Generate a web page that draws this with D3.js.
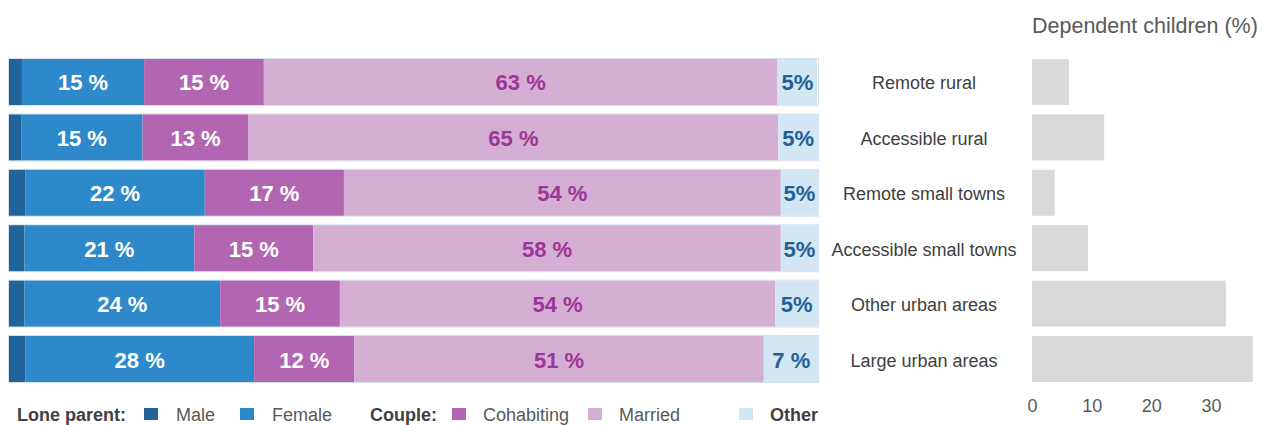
<!DOCTYPE html>
<html lang="en">

<head>
  <meta charset="UTF-8">
  <title>Household types by urban rural classification</title>
  <script src="https://d3js.org/d3.v7.min.js"></script>
  <style>
    body {
      margin: 0;
      background: #fff;
    }

    svg {
      font-family: "Liberation Sans", Arial, sans-serif;
    }
  </style>
</head>

<body>
  <div id="chart"></div>
  <script>
    // data
    const areas = ["Remote rural", "Accessible rural", "Remote small towns",
      "Accessible small towns", "Other urban areas", "Large urban areas"];
    const male = [1.6, 1.5, 2.0, 1.9, 1.9, 2.0];
    const female = [15.1, 15.0, 22.2, 21.0, 24.2, 28.3];
    const cohabiting = [14.8, 13.1, 17.2, 14.7, 14.8, 12.4];
    const married = [63.5, 65.5, 54.0, 57.8, 53.8, 50.6];
    const other = [4.9, 4.9, 4.6, 4.6, 5.3, 6.8];
    const femaleLabels = ["15 %", "15 %", "22 %", "21 %", "24 %", "28 %"];
    const cohabitingLabels = ["15 %", "13 %", "17 %", "15 %", "15 %", "12 %"];
    const marriedLabels = ["63 %", "65 %", "54 %", "58 %", "54 %", "51 %"];
    const otherLabels = ["5%", "5%", "5%", "5%", "5%", "7 %"];
    const children = [6.2, 12.1, 3.8, 9.4, 32.5, 37.0];
    const childTicks = [0, 10, 20, 30];

    const width = 1262;
    const height = 425;

    const svg = d3.select("#chart")
      .append("svg")
      .attr("width", width)
      .attr("height", height);

    const keys = ["male", "female", "cohabiting", "married", "other"];
    const colors = {
      male: "#22649a",
      female: "#2e89ca",
      cohabiting: "#b266b1",
      married: "#d5aed3",
      other: "#d3e6f3"
    };
    const labelColors = {
      female: "#ffffff",
      cohabiting: "#ffffff",
      married: "#9c3598",
      other: "#1f6196"
    };
    const labels = {
      female: femaleLabels,
      cohabiting: cohabitingLabels,
      married: marriedLabels,
      other: otherLabels
    };

    const rows = areas.map((a, i) => ({
      area: a,
      male: male[i],
      female: female[i],
      cohabiting: cohabiting[i],
      married: married[i],
      other: other[i],
      children: children[i],
      index: i
    }));

    // scales
    const y = d3.scaleBand()
      .domain(areas)
      .range([59, 382])
      .paddingInner(0.17);

    const x = d3.scaleLinear()
      .domain([0, 100])
      .range([9, 818]);

    const xc = d3.scaleLinear()
      .domain([0, 30])
      .range([1032, 1211]);

    const stack = d3.stack().keys(keys);
    const series = stack(rows);

    // thin outline behind each bar
    svg.append("g")
      .selectAll("rect")
      .data(rows)
      .join("rect")
      .attr("x", x(0) - 0.5)
      .attr("y", d => y(d.area) - 0.5)
      .attr("width", x(100) - x(0) + 1)
      .attr("height", y.bandwidth() + 1)
      .attr("fill", "none")
      .attr("stroke", "#d6e2ec");

    // stacked bars
    const groups = svg.append("g")
      .selectAll("g")
      .data(series)
      .join("g")
      .attr("fill", s => colors[s.key]);

    groups.selectAll("rect")
      .data(s => s)
      .join("rect")
      .attr("x", d => x(d[0]))
      .attr("y", d => y(d.data.area))
      .attr("width", d => x(d[1]) - x(d[0]))
      .attr("height", y.bandwidth());

    // segment labels
    series.filter(s => s.key !== "male").forEach(s => {
      svg.append("g")
        .selectAll("text")
        .data(s)
        .join("text")
        .attr("x", d => (x(d[0]) + x(d[1])) / 2)
        .attr("y", d => y(d.data.area) + y.bandwidth() / 2 + 1)
        .attr("text-anchor", "middle")
        .attr("dominant-baseline", "central")
        .attr("font-size", 22)
        .attr("font-weight", "bold")
        .attr("fill", labelColors[s.key])
        .text(d => labels[s.key][d.data.index]);
    });

    // category labels
    svg.append("g")
      .selectAll("text")
      .data(areas)
      .join("text")
      .attr("x", 924)
      .attr("y", d => y(d) + y.bandwidth() / 2 + 1.5)
      .attr("text-anchor", "middle")
      .attr("dominant-baseline", "central")
      .attr("font-size", 18)
      .attr("fill", "#404040")
      .text(d => d);

    // dependent children bars
    svg.append("g")
      .selectAll("rect")
      .data(rows)
      .join("rect")
      .attr("x", xc(0))
      .attr("y", d => y(d.area))
      .attr("width", d => xc(d.children) - xc(0))
      .attr("height", y.bandwidth())
      .attr("fill", "#d9d9d9");

    const axis = svg.append("g")
      .attr("transform", "translate(0,399)")
      .call(d3.axisBottom(xc).tickValues(childTicks).tickSize(0).tickPadding(0));
    axis.select(".domain").remove();
    axis.selectAll("text")
      .attr("font-size", 18)
      .attr("font-family", "Liberation Sans, Arial, sans-serif")
      .attr("fill", "#595959");

    svg.append("text")
      .attr("x", 1032)
      .attr("y", 33)
      .attr("font-size", 21.5)
      .attr("fill", "#595959")
      .text("Dependent children (%)");

    // legend
    const legendItems = [
      { type: "head", text: "Lone parent:", x: 17 },
      { type: "box", key: "male", x: 144 },
      { type: "text", text: "Male", x: 176 },
      { type: "box", key: "female", x: 240 },
      { type: "text", text: "Female", x: 272 },
      { type: "head", text: "Couple:", x: 370 },
      { type: "box", key: "cohabiting", x: 452 },
      { type: "text", text: "Cohabiting", x: 483 },
      { type: "box", key: "married", x: 588 },
      { type: "text", text: "Married", x: 619 },
      { type: "box", key: "other", x: 739 },
      { type: "head", text: "Other", x: 770 }
    ];

    const legend = svg.append("g");
    legendItems.forEach(it => {
      if (it.type === "box") {
        legend.append("rect")
          .attr("x", it.x)
          .attr("y", 408)
          .attr("width", 14)
          .attr("height", 12)
          .attr("fill", colors[it.key]);
      } else {
        legend.append("text")
          .attr("x", it.x)
          .attr("y", 421)
          .attr("font-size", 18)
          .attr("font-weight", it.type === "head" ? "bold" : "normal")
          .attr("fill", it.type === "head" ? "#404040" : "#595959")
          .text(it.text);
      }
    });
  </script>
</body>

</html>
